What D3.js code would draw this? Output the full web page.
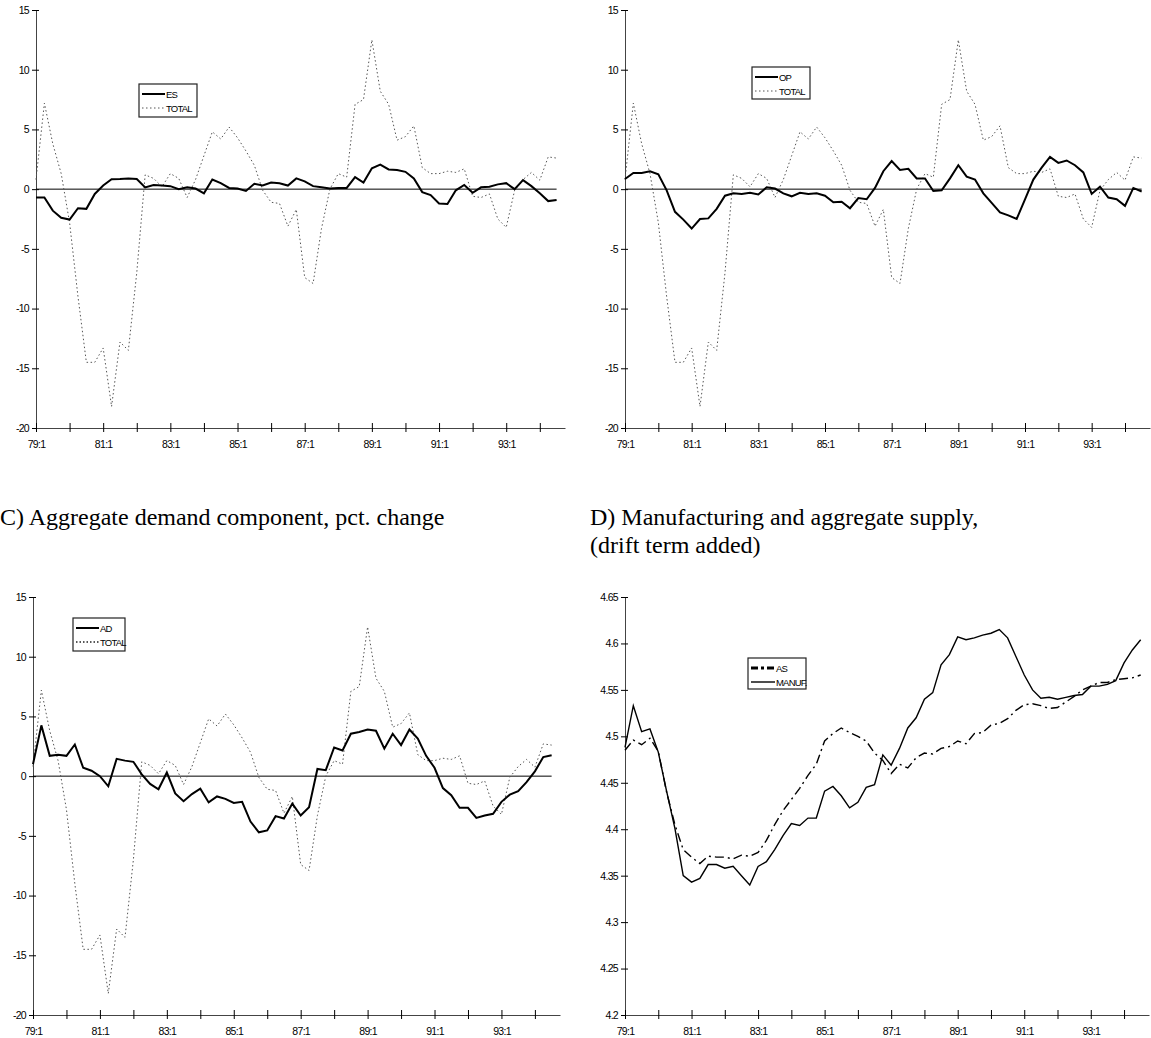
<!DOCTYPE html>
<html><head><meta charset="utf-8">
<script src="https://cdn.jsdelivr.net/npm/d3@7"></script>
<style>
html,body{margin:0;padding:0;background:#fff;}
svg{display:block;}
.tick text{font-family:"Liberation Sans",Arial,sans-serif;font-size:10.5px;letter-spacing:-0.7px;fill:#000;}
.leg{font-family:"Liberation Sans",Arial,sans-serif;font-size:9.5px;letter-spacing:-0.8px;fill:#000;}
.ttl{font-family:"Liberation Serif","Times New Roman",serif;font-size:24px;fill:#000;}
</style></head>
<body>
<svg id="c" width="1151" height="1038"></svg>
<script>
// quarter categories 79:1 .. 94:4
const quarters = ["79:1","79:2","79:3","79:4","80:1","80:2","80:3","80:4","81:1","81:2","81:3","81:4","82:1","82:2","82:3","82:4",
"83:1","83:2","83:3","83:4","84:1","84:2","84:3","84:4","85:1","85:2","85:3","85:4","86:1","86:2","86:3","86:4",
"87:1","87:2","87:3","87:4","88:1","88:2","88:3","88:4","89:1","89:2","89:3","89:4","90:1","90:2","90:3","90:4",
"91:1","91:2","91:3","91:4","92:1","92:2","92:3","92:4","93:1","93:2","93:3","93:4","94:1","94:2","94:3","94:4"];
const tickLabels = ["79:1","81:1","83:1","85:1","87:1","89:1","91:1","93:1"];
const pctTicks = [-20,-15,-10,-5,0,5,10,15];
const levelTicks = [4.2,4.25,4.3,4.35,4.4,4.45,4.5,4.55,4.6,4.65];

const TOTAL = [0.8,7.2,3.8,1.3,-2.8,-9.0,-14.5,-14.5,-13.3,-18.2,-12.8,-13.5,-7.0,1.2,0.9,0.2,
1.3,0.9,-0.7,0.8,2.8,4.8,4.2,5.2,4.3,3.2,2.0,-0.1,-1.1,-1.2,-3.1,-1.7,
-7.4,-7.9,-3.3,0.0,1.3,1.0,7.1,7.5,12.5,8.2,7.1,4.1,4.4,5.3,1.8,1.3,
1.3,1.5,1.4,1.7,-0.6,-0.7,-0.4,-2.5,-3.2,-0.1,0.8,1.4,0.75,2.7,2.6];

const ES = [-0.7,-0.7,-1.8,-2.4,-2.55,-1.6,-1.65,-0.4,0.3,0.83,0.85,0.9,0.85,0.15,0.35,0.3,
0.25,0.0,0.15,0.05,-0.35,0.8,0.5,0.1,0.05,-0.15,0.45,0.3,0.55,0.5,0.3,0.9,
0.65,0.25,0.15,0.05,0.1,0.1,1.0,0.55,1.75,2.05,1.65,1.6,1.45,0.9,-0.25,-0.5,
-1.2,-1.25,-0.1,0.35,-0.3,0.15,0.2,0.4,0.5,0.0,0.75,0.25,-0.35,-1.0,-0.9];

const OP = [0.85,1.35,1.35,1.5,1.25,-0.1,-1.9,-2.55,-3.3,-2.5,-2.45,-1.65,-0.55,-0.35,-0.4,-0.3,
-0.45,0.15,0.05,-0.35,-0.6,-0.3,-0.4,-0.35,-0.55,-1.1,-1.05,-1.6,-0.75,-0.85,0.1,1.5,
2.35,1.6,1.7,0.9,0.9,-0.15,-0.1,0.9,2.0,1.05,0.8,-0.35,-1.15,-1.95,-2.2,-2.5,
-0.85,0.8,1.8,2.7,2.2,2.4,2.0,1.4,-0.4,0.2,-0.7,-0.85,-1.4,0.1,-0.2];

const AD = [1.0,4.25,1.7,1.8,1.7,2.65,0.7,0.45,0.0,-0.85,1.45,1.3,1.2,0.15,-0.65,-1.1,
0.3,-1.45,-2.1,-1.5,-1.05,-2.2,-1.7,-1.9,-2.25,-2.15,-3.8,-4.7,-4.55,-3.35,-3.55,-2.3,
-3.3,-2.6,0.6,0.5,2.4,2.15,3.55,3.7,3.9,3.8,2.3,3.55,2.6,3.9,3.15,1.7,
0.7,-1.0,-1.6,-2.65,-2.65,-3.5,-3.3,-3.15,-2.15,-1.55,-1.25,-0.5,0.4,1.6,1.75];

const AS = [4.485,4.496,4.491,4.498,4.484,4.44,4.405,4.378,4.370,4.363,4.371,4.370,4.370,4.368,4.372,4.371,
4.375,4.388,4.405,4.42,4.432,4.444,4.458,4.47,4.495,4.503,4.509,4.504,4.500,4.495,4.482,4.474,
4.460,4.470,4.466,4.477,4.482,4.481,4.487,4.489,4.495,4.492,4.503,4.504,4.512,4.514,4.519,4.528,
4.534,4.535,4.533,4.530,4.531,4.537,4.543,4.550,4.554,4.558,4.558,4.561,4.562,4.563,4.566];

const MANUF = [4.488,4.533,4.505,4.508,4.483,4.441,4.401,4.350,4.343,4.347,4.362,4.362,4.358,4.360,4.350,4.340,
4.360,4.365,4.378,4.393,4.406,4.404,4.412,4.412,4.441,4.446,4.436,4.423,4.429,4.445,4.448,4.480,
4.469,4.487,4.509,4.520,4.540,4.547,4.577,4.588,4.607,4.604,4.606,4.609,4.611,4.615,4.606,4.586,
4.566,4.550,4.541,4.542,4.540,4.542,4.544,4.545,4.554,4.554,4.556,4.560,4.579,4.593,4.604];

const svg = d3.select("#c");

const styles = {
  main:  {stroke:"#000", width:2, dash:null},
  total: {stroke:"#555", width:1, dash:"1.5,2.5"},
  totalLeg: {stroke:"#222", width:1.3, dash:"1.5,2"},
  as:    {stroke:"#000", width:1.4, dash:"9,4,2,4"},
  asLeg: {stroke:"#000", width:3, dash:"7,3,3,3"},
  manuf: {stroke:"#000", width:1.4, dash:null}
};

function panel(cfg){
  const g = svg.append("g");
  const x = d3.scaleLinear().domain([0, quarters.length-1]).range([cfg.left, cfg.right]);
  const y = d3.scaleLinear().domain(cfg.domain).range([cfg.bottom, cfg.top]);

  // y axis
  const ya = g.append("g").attr("transform",`translate(${cfg.left},0)`)
    .call(d3.axisLeft(y).tickValues(cfg.yTicks).tickSize(3).tickSizeOuter(0).tickPadding(4)
      .tickFormat(cfg.fmt));
  ya.select(".domain").attr("stroke","#444");
  ya.selectAll(".tick line").attr("x1",-4).attr("x2",3).attr("stroke","#000");

  // x axis
  const xTickIdx = d3.range(0, 61, 4);
  const xa = g.append("g").attr("transform",`translate(0,${cfg.bottom})`)
    .call(d3.axisBottom(x).tickValues(xTickIdx).tickSize(4).tickSizeOuter(0).tickPadding(9)
      .tickFormat(i => tickLabels.includes(quarters[i]) ? quarters[i] : ""));
  xa.select(".domain").attr("stroke","#444");
  xa.selectAll(".tick line").attr("y1",-5).attr("y2",4).attr("stroke","#000");

  // zero line
  if (cfg.zero) {
    g.append("line").attr("x1",x(0)).attr("x2",x(cfg.series[0].data.length-1))
      .attr("y1",y(0)).attr("y2",y(0)).attr("stroke","#000").attr("stroke-width",1);
  }

  const line = d3.line().x((d,i)=>x(i)).y(d=>y(d));
  cfg.series.forEach(s=>{
    const st = styles[s.style];
    g.append("path").datum(s.data).attr("d",line).attr("fill","none")
      .attr("stroke",st.stroke).attr("stroke-width",st.width)
      .attr("stroke-dasharray",st.dash).attr("stroke-linejoin","miter");
  });

  // legend
  const L = cfg.legend;
  const lg = g.append("g");
  lg.append("rect").attr("x",L.x).attr("y",L.y).attr("width",L.w).attr("height",L.h)
    .attr("fill","#fff").attr("stroke","#222").attr("stroke-width",1.2);
  L.items.forEach((it,k)=>{
    const st = styles[it.style];
    const yy = L.y + 10 + k*14;
    lg.append("line").attr("x1",L.x+3).attr("x2",L.x+3+L.sw).attr("y1",yy).attr("y2",yy)
      .attr("stroke",st.stroke).attr("stroke-width",st.width).attr("stroke-dasharray",st.dash);
    lg.append("text").attr("class","leg").attr("x",L.x+4+L.sw).attr("y",yy+3.5).text(it.label);
  });
}

const pctFmt = d => String(d);
const lvlFmt = d => String(+d.toFixed(2));

panel({left:36,right:565,top:10,bottom:428,domain:[-20,15],yTicks:pctTicks,fmt:pctFmt,zero:true,
  series:[{data:TOTAL,style:"total"},{data:ES,style:"main"}],
  legend:{x:139,y:84,w:58,h:33,sw:23,items:[{label:"ES",style:"main"},{label:"TOTAL",style:"total"}]}});

panel({left:625,right:1150,top:10,bottom:428,domain:[-20,15],yTicks:pctTicks,fmt:pctFmt,zero:true,
  series:[{data:TOTAL,style:"total"},{data:OP,style:"main"}],
  legend:{x:752,y:67,w:58,h:32,sw:23,items:[{label:"OP",style:"main"},{label:"TOTAL",style:"total"}]}});

panel({left:33,right:560,top:597,bottom:1015,domain:[-20,15],yTicks:pctTicks,fmt:pctFmt,zero:true,
  series:[{data:TOTAL,style:"total"},{data:AD,style:"main"}],
  legend:{x:73,y:618,w:52,h:33,sw:23,items:[{label:"AD",style:"main"},{label:"TOTAL",style:"totalLeg"}]}});

panel({left:625,right:1149,top:597,bottom:1015,domain:[4.2,4.65],yTicks:levelTicks,fmt:lvlFmt,zero:false,
  series:[{data:AS,style:"as"},{data:MANUF,style:"manuf"}],
  legend:{x:748,y:658,w:58,h:31,sw:24,items:[{label:"AS",style:"asLeg"},{label:"MANUF.",style:"manuf"}]}});

// titles
svg.append("text").attr("class","ttl").attr("x",0).attr("y",525).text("C) Aggregate demand component, pct. change");
svg.append("text").attr("class","ttl").attr("x",590).attr("y",525).text("D) Manufacturing and aggregate supply,");
svg.append("text").attr("class","ttl").attr("x",590).attr("y",553).text("(drift term added)");
</script>
</body></html>
